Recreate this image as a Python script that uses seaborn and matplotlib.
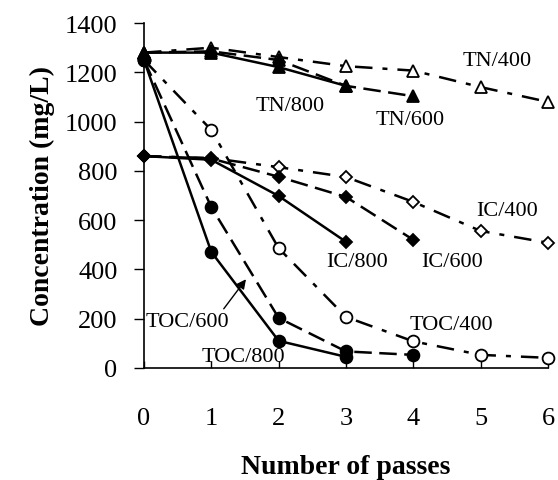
import matplotlib
matplotlib.use("Agg")
import matplotlib.pyplot as plt
import seaborn as sns
import pandas as pd

sns.set_theme(style="ticks")
plt.rcParams['font.family'] = ['Liberation Serif', 'DejaVu Serif']
plt.rcParams['text.color'] = 'black'
plt.rcParams['axes.labelcolor'] = 'black'
plt.rcParams['xtick.color'] = 'black'
plt.rcParams['ytick.color'] = 'black'

passes = [0, 1, 2, 3, 4, 5, 6]

tn_400 = [1280, 1300, 1262, 1225, 1207, 1140, 1080]
tn_600 = [1280, 1285, 1250, 1145, 1103]
tn_800 = [1280, 1280, 1221, 1145]

ic_400 = [860, 852, 815, 775, 674, 556, 508]
ic_600 = [860, 850, 776, 694, 520]
ic_800 = [860, 845, 698, 512]

toc_400 = [1250, 966, 486, 207, 108, 53, 41]
toc_600 = [1250, 653, 203, 67, 53]
toc_800 = [1250, 471, 110, 45]

series = [
    ("TN/400", tn_400, "^", "white", "dashdot"),
    ("TN/600", tn_600, "^", "black", "dashed"),
    ("TN/800", tn_800, "^", "black", "solid"),
    ("IC/400", ic_400, "D", "white", "dashdot"),
    ("IC/600", ic_600, "D", "black", "dashed"),
    ("IC/800", ic_800, "D", "black", "solid"),
    ("TOC/400", toc_400, "o", "white", "dashdot"),
    ("TOC/600", toc_600, "o", "black", "dashed"),
    ("TOC/800", toc_800, "o", "black", "solid"),
]

line_styles = {
    "solid": "-",
    "dashed": (0, (7, 3)),
    "dashdot": (0, (7, 4, 2, 4)),
}
marker_sizes = {"^": 9, "D": 6.5, "o": 8.5}

labels = ["TN/400", "TN/800", "TN/600", "IC/400", "IC/800", "IC/600",
          "TOC/400", "TOC/800", "TOC/600"]
label_x = [5.24, 2.17, 3.95, 5.39, 3.16, 4.57, 4.57, 1.47, 0.65]
label_y = [1250, 1067, 1010, 641, 434, 434, 178, 45, 190]

fig = plt.figure(figsize=(5.58, 4.81), dpi=100)
ax = fig.add_axes([0.258, 0.233, 0.724, 0.717])

for name, vals, mk, fc, ls in series:
    df = pd.DataFrame({"x": passes[:len(vals)], "y": vals})
    sns.lineplot(data=df, x="x", y="y", ax=ax, color="black",
                 linestyle=line_styles[ls], linewidth=1.8,
                 marker=mk, markersize=marker_sizes[mk],
                 markerfacecolor=fc, markeredgecolor="black",
                 markeredgewidth=1.3, clip_on=False, zorder=3)

for t, lx, ly in zip(labels, label_x, label_y):
    ax.text(lx, ly, t, fontsize=16, ha="center", va="center", color="black")

ax.annotate("", xy=(1.54, 369), xytext=(1.16, 231),
            arrowprops=dict(arrowstyle="-|>", color="black", lw=1.0,
                            mutation_scale=14))

ax.set_xlim(0, 6)
ax.set_ylim(0, 1400)
ax.set_xticks(passes)
ax.set_yticks(range(0, 1401, 200))
ax.tick_params(axis="x", direction="in", length=5, width=1, pad=28,
               labelsize=19, colors="black")
ax.tick_params(axis="y", direction="out", length=7, width=1, pad=12,
               labelsize=19, colors="black")
for side in ["top", "right"]:
    ax.spines[side].set_visible(False)
for side in ["left", "bottom"]:
    ax.spines[side].set_color("black")
    ax.spines[side].set_linewidth(1.2)

ax.set_xlabel("Number of passes", fontsize=20, fontweight="bold",
              labelpad=18, color="black")
ax.set_ylabel("Concentration (mg/L)", fontsize=20, fontweight="bold",
              labelpad=7, color="black")

fig.savefig("out.png", dpi=100)
